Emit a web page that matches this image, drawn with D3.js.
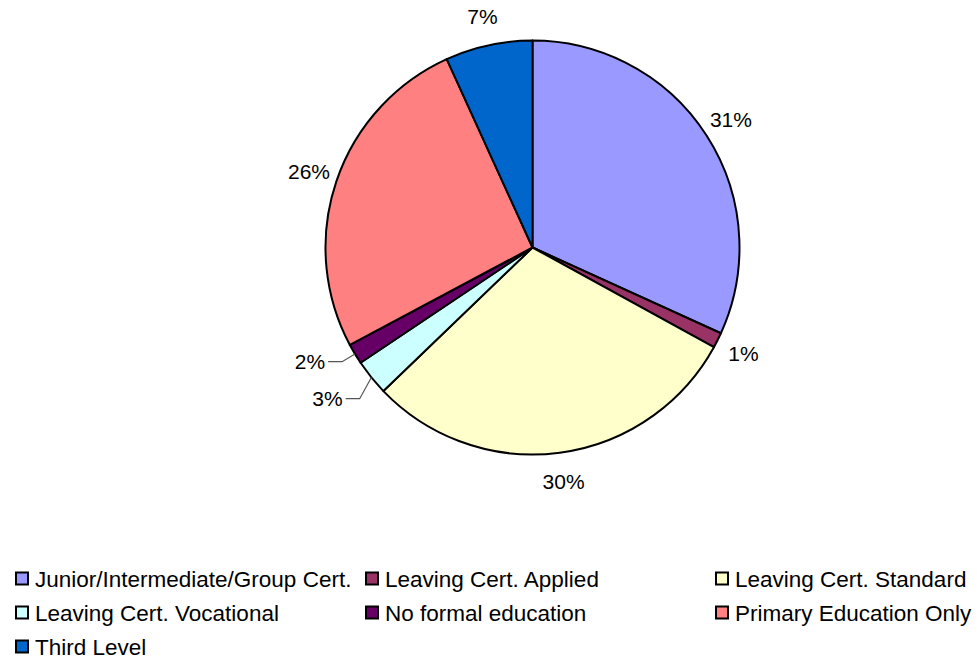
<!DOCTYPE html>
<html>
<head>
<meta charset="utf-8">
<script src="https://cdn.jsdelivr.net/npm/d3@7"></script>
<style>
  body { margin: 0; background: #fff; }
  svg { display: block; font-family: "Liberation Sans", Arial, sans-serif; }
</style>
</head>
<body>
<svg id="chart"></svg>
<script>
// data (share of respondents, %)
const categories = [
  "Junior/Intermediate/Group Cert.",
  "Leaving Cert. Applied",
  "Leaving Cert. Standard",
  "Leaving Cert. Vocational",
  "No formal education",
  "Primary Education Only",
  "Third Level"
];
const shares = [31.8, 1.2, 29.8, 2.8, 1.6, 26.0, 6.8];
const shareLabels = ["31%", "1%", "30%", "3%", "2%", "26%", "7%"];
const colors = ["#9999FF", "#993366", "#FFFFCC", "#CCFFFF", "#660066", "#FF8080", "#0066CC"];

const width = 977, height = 658;
const cx = 532.5, cy = 247.5, radius = 207;

const svg = d3.select("#chart")
  .attr("width", width)
  .attr("height", height);

const color = d3.scaleOrdinal().domain(categories).range(colors);

const pie = d3.pie().sort(null).value(d => d.value);
const rows = categories.map((c, i) => ({name: c, value: shares[i], label: shareLabels[i]}));
const arcs = pie(rows);

const arc = d3.arc().innerRadius(0).outerRadius(radius);

const g = svg.append("g").attr("transform", `translate(${cx},${cy})`);

g.selectAll("path.slice")
  .data(arcs)
  .enter()
  .append("path")
    .attr("class", "slice")
    .attr("d", arc)
    .attr("fill", d => color(d.data.name))
    .attr("stroke", "#000")
    .attr("stroke-width", 2)
    .attr("stroke-linejoin", "round");

// labels: slices sit just outside, the crowded small ones on the left get a leader line
const mid = d => (d.startAngle + d.endAngle) / 2;
const polar = (a, r) => [r * Math.sin(a), -r * Math.cos(a)];
const labelR = 236, elbowR = 222;

const small = arcs.filter(d => d.value < 3 && mid(d) > Math.PI);
const big = arcs.filter(d => !small.includes(d));

g.selectAll("text.big")
  .data(big)
  .enter()
  .append("text")
    .attr("class", "big")
    .attr("x", d => polar(mid(d), labelR)[0])
    .attr("y", d => polar(mid(d), labelR)[1])
    .attr("text-anchor", "middle")
    .attr("dominant-baseline", "central")
    .attr("font-size", "21px")
    .attr("fill", "#000")
    .text(d => d.data.label);

// leader labels, stacked downwards so they don't collide
let lead = small.map(d => {
  const e = polar(mid(d), elbowR);
  return {d: d, edge: polar(mid(d), radius), ex: e[0], ey: e[1]};
}).sort((a, b) => a.ey - b.ey);
for (let i = 1; i < lead.length; i++) {
  if (lead[i].ey - lead[i - 1].ey < 37) lead[i].ey = lead[i - 1].ey + 37;
}

lead.forEach(l => {
  g.append("polyline")
    .attr("points", [[l.edge[0], l.edge[1]], [l.ex, l.ey], [l.ex - 14, l.ey]].map(p => p.join(",")).join(" "))
    .attr("fill", "none")
    .attr("stroke", "#555")
    .attr("stroke-width", 1.2);
  g.append("text")
    .attr("x", l.ex - 17)
    .attr("y", l.ey)
    .attr("text-anchor", "end")
    .attr("dominant-baseline", "central")
    .attr("font-size", "21px")
    .text(l.d.data.label);
});

// legend, 3 columns
const legendX = 15, legendY = 579, colW = 350, rowH = 34, box = 13;
const legend = svg.append("g").attr("class", "legend");
const item = legend.selectAll("g.item")
  .data(categories)
  .enter()
  .append("g")
    .attr("class", "item")
    .attr("transform", (d, i) => `translate(${legendX + (i % 3) * colW},${legendY + Math.floor(i / 3) * rowH})`);

item.append("rect")
  .attr("x", 1)
  .attr("y", -box / 2)
  .attr("width", box - 1)
  .attr("height", box - 1)
  .attr("fill", d => color(d))
  .attr("stroke", "#000")
  .attr("stroke-width", 2);

item.append("text")
  .attr("x", 20)
  .attr("y", 0)
  .attr("dominant-baseline", "central")
  .attr("font-size", "22.5px")
  .text(d => d);
</script>
</body>
</html>
